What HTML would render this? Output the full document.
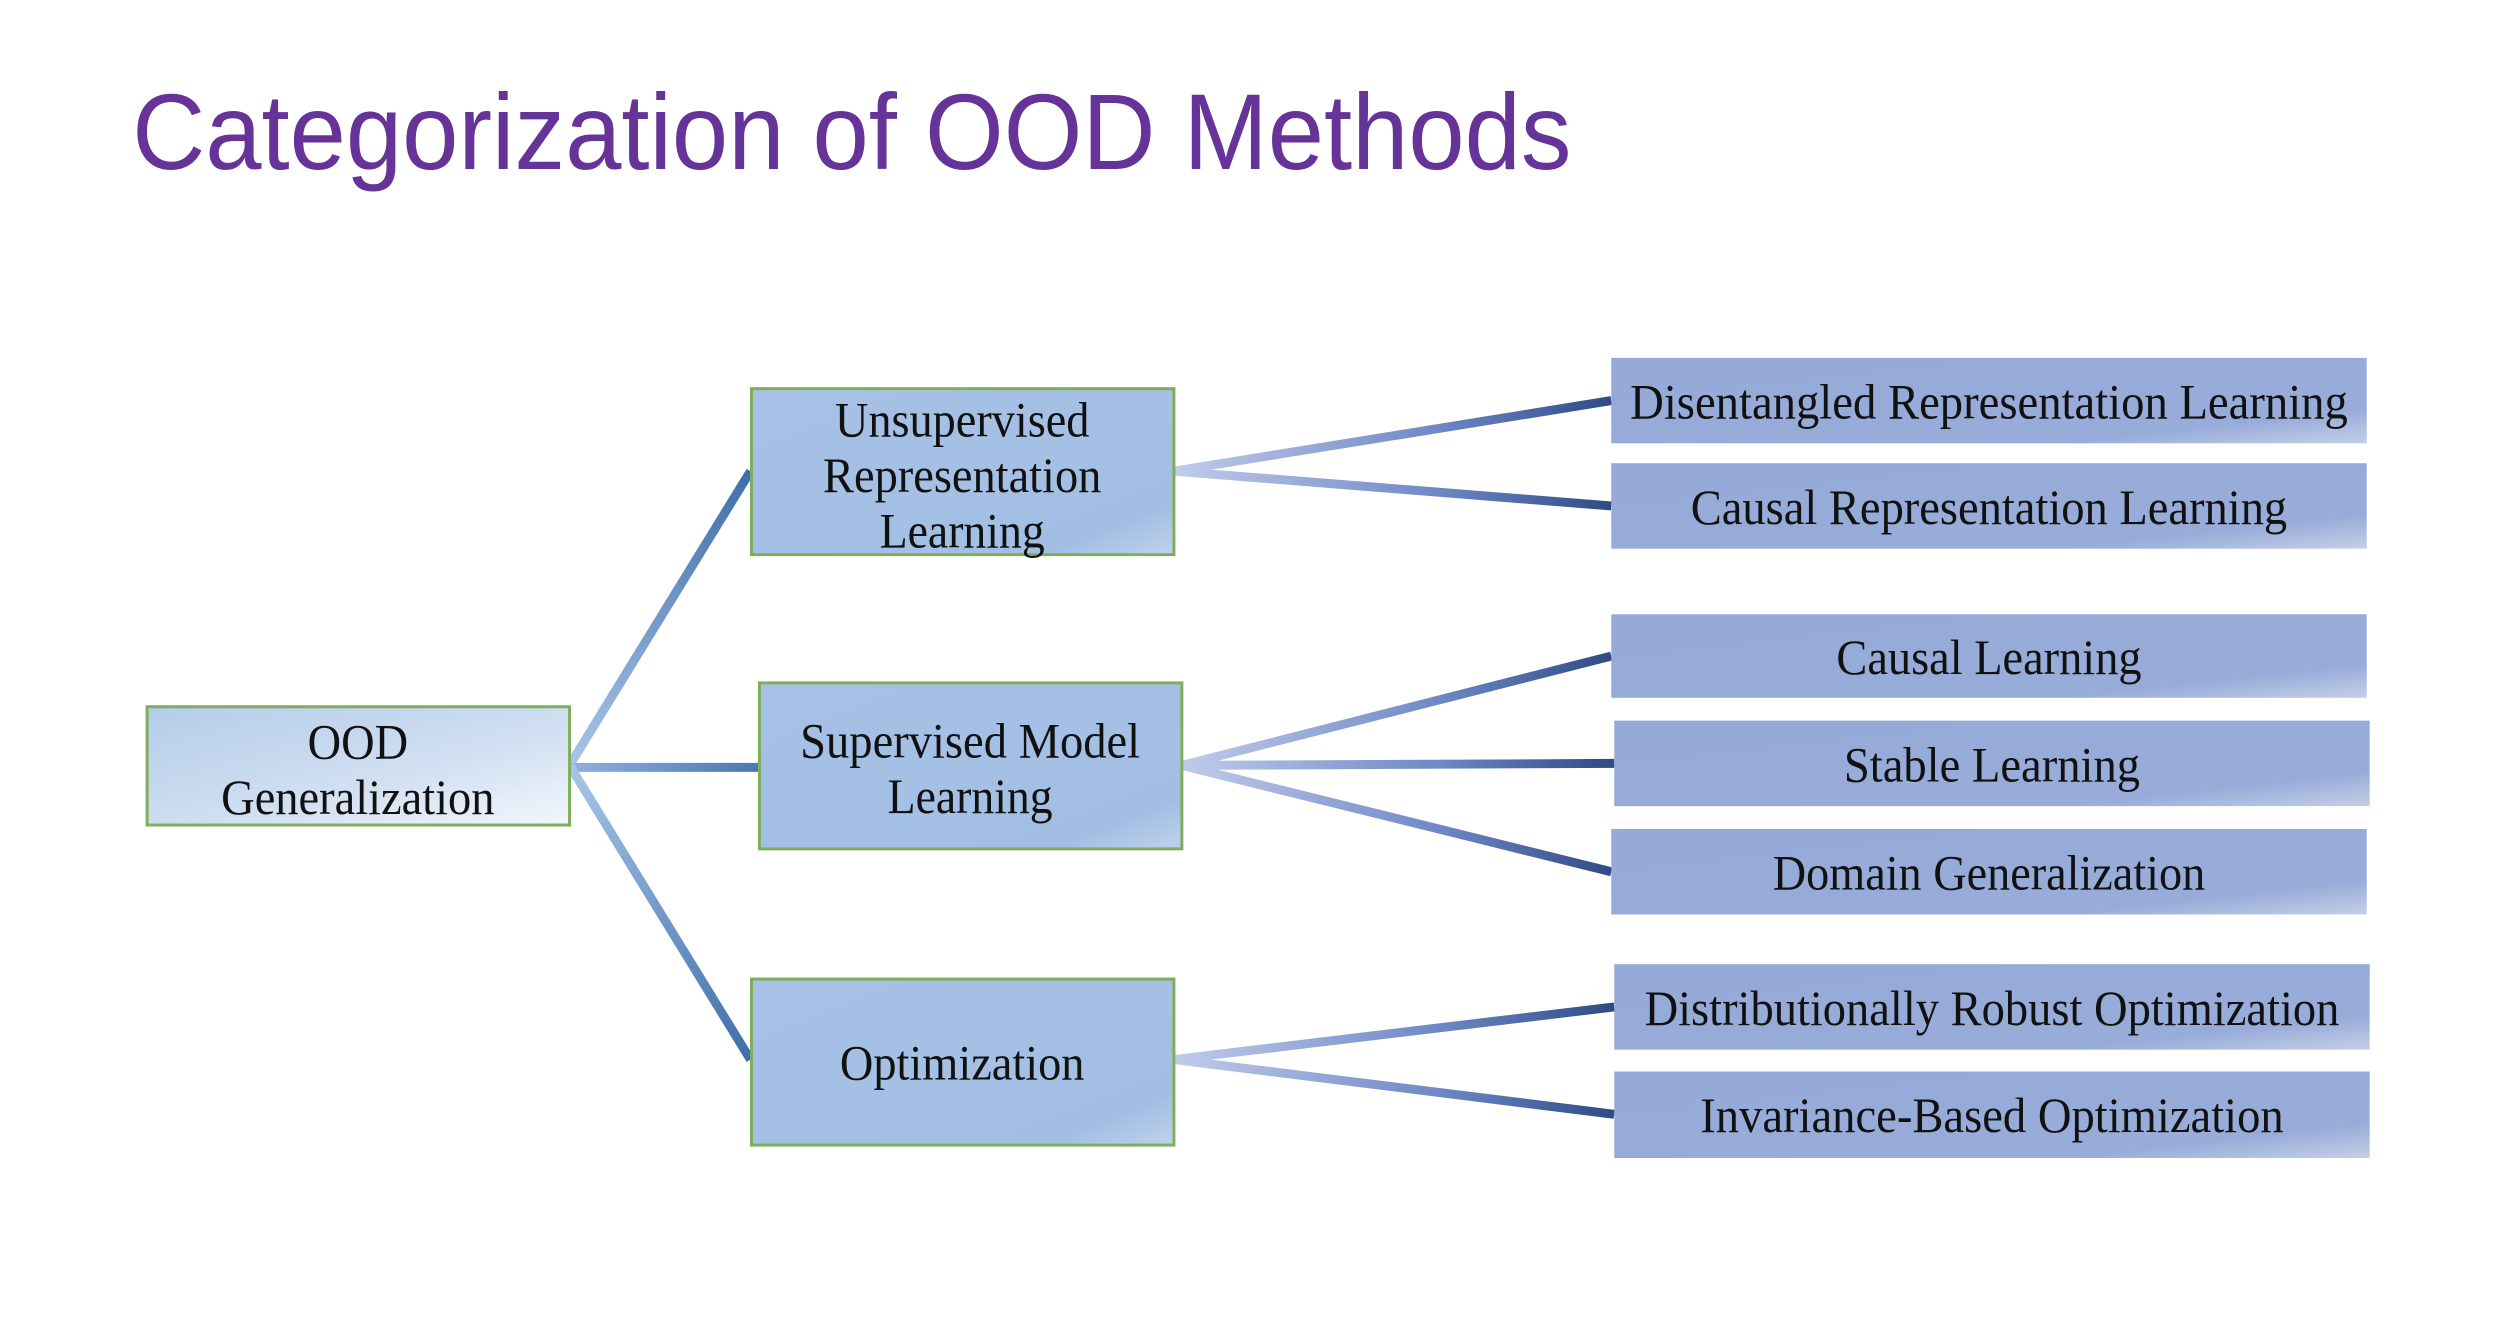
<!DOCTYPE html>
<html><head><meta charset="utf-8"><style>html,body{margin:0;padding:0;background:#fff}svg{display:block}</style></head>
<body>
<svg width="2494" height="1338" viewBox="0 0 2494 1338" xmlns="http://www.w3.org/2000/svg">
<defs>
<linearGradient id="mid" x1="0" y1="0" x2="1" y2="1">
<stop offset="0" stop-color="#a7c1e6"/><stop offset="0.85" stop-color="#a2bfe3"/><stop offset="1" stop-color="#bfd2ec"/></linearGradient>
<linearGradient id="ood" x1="0" y1="0" x2="1" y2="1">
<stop offset="0" stop-color="#b4cce9"/><stop offset="0.6" stop-color="#d2e0f2"/><stop offset="1" stop-color="#f2f6fc"/></linearGradient>
<linearGradient id="rt" x1="0" y1="0" x2="1" y2="1">
<stop offset="0" stop-color="#96aad9"/><stop offset="0.8" stop-color="#98acd9"/><stop offset="1" stop-color="#c4cfe8"/></linearGradient>
</defs>
<g transform="scale(0.994)">
<text x="133" y="170" font-family="Liberation Sans, sans-serif" font-size="108" fill="#663399" textLength="1448" lengthAdjust="spacingAndGlyphs">Categorization of OOD Methods</text>

<g stroke-width="9" stroke-linecap="butt" fill="none">
<linearGradient id="g1" gradientUnits="userSpaceOnUse" x1="573" y1="770" x2="755" y2="474"><stop offset="0" stop-color="#a8c6e8"/><stop offset="1" stop-color="#3f6ea8"/></linearGradient>
<line x1="573" y1="770" x2="755" y2="474" stroke="url(#g1)"/>
<linearGradient id="g2" gradientUnits="userSpaceOnUse" x1="573" y1="770" x2="763" y2="770"><stop offset="0" stop-color="#8fb2de"/><stop offset="1" stop-color="#4a78b0"/></linearGradient>
<line x1="573" y1="772" x2="763" y2="772" stroke="url(#g2)"/>
<linearGradient id="g3" gradientUnits="userSpaceOnUse" x1="573" y1="770" x2="755" y2="1066"><stop offset="0" stop-color="#a8c6e8"/><stop offset="1" stop-color="#3f6ea8"/></linearGradient>
<line x1="573" y1="770" x2="755" y2="1066" stroke="url(#g3)"/>

<linearGradient id="h" gradientUnits="userSpaceOnUse" x1="1181" y1="0" x2="1621" y2="0"><stop offset="0" stop-color="#c0ccea"/><stop offset="0.6" stop-color="#6f88c6"/><stop offset="1" stop-color="#2f4a86"/></linearGradient>
<linearGradient id="h2" gradientUnits="userSpaceOnUse" x1="1189" y1="0" x2="1621" y2="0"><stop offset="0" stop-color="#c0ccea"/><stop offset="0.6" stop-color="#6f88c6"/><stop offset="1" stop-color="#2f4a86"/></linearGradient>
<linearGradient id="h3" gradientUnits="userSpaceOnUse" x1="1181" y1="0" x2="1624" y2="0"><stop offset="0" stop-color="#c0ccea"/><stop offset="0.6" stop-color="#6f88c6"/><stop offset="1" stop-color="#2f4a86"/></linearGradient>
<line x1="1181" y1="474" x2="1621" y2="403" stroke="url(#h)"/>
<line x1="1181" y1="474" x2="1621" y2="509" stroke="url(#h)"/>
<line x1="1189" y1="770" x2="1621" y2="660" stroke="url(#h2)"/>
<line x1="1189" y1="770" x2="1624" y2="768" stroke="url(#h2)"/>
<line x1="1189" y1="770" x2="1621" y2="877" stroke="url(#h2)"/>
<line x1="1181" y1="1066" x2="1624" y2="1013" stroke="url(#h3)"/>
<line x1="1181" y1="1066" x2="1624" y2="1121" stroke="url(#h3)"/>
</g>

<g stroke="#7fae5a" stroke-width="3">
<rect x="148" y="711" width="425" height="119" fill="url(#ood)"/>
<rect x="756" y="391" width="425" height="167" fill="url(#mid)"/>
<rect x="764" y="687" width="425" height="167" fill="url(#mid)"/>
<rect x="756" y="985" width="425" height="167" fill="url(#mid)"/>
</g>
<g fill="url(#rt)">
<rect x="1621" y="360" width="760" height="86"/>
<rect x="1621" y="466" width="760" height="86"/>
<rect x="1621" y="618" width="760" height="84"/>
<rect x="1624" y="725" width="760" height="86"/>
<rect x="1621" y="834" width="760" height="86"/>
<rect x="1624" y="970" width="760" height="86"/>
<rect x="1624" y="1078" width="760" height="87"/>
</g>

<g font-family="Liberation Serif, serif" font-size="50" fill="#111">
<text x="360" y="763" text-anchor="middle" textLength="101" lengthAdjust="spacingAndGlyphs">OOD</text>
<text x="360" y="819" text-anchor="middle" textLength="275" lengthAdjust="spacingAndGlyphs">Generalization</text>
<text x="968" y="439" text-anchor="middle" textLength="256" lengthAdjust="spacingAndGlyphs">Unsupervised</text>
<text x="968" y="495" text-anchor="middle" textLength="280" lengthAdjust="spacingAndGlyphs">Representation</text>
<text x="968" y="551" text-anchor="middle" textLength="166" lengthAdjust="spacingAndGlyphs">Learning</text>
<text x="976" y="762" text-anchor="middle" textLength="342" lengthAdjust="spacingAndGlyphs">Supervised Model</text>
<text x="976" y="818" text-anchor="middle" textLength="166" lengthAdjust="spacingAndGlyphs">Learning</text>
<text x="968" y="1086" text-anchor="middle" textLength="246" lengthAdjust="spacingAndGlyphs">Optimization</text>
<text x="2001" y="421" text-anchor="middle" textLength="722" lengthAdjust="spacingAndGlyphs">Disentangled Representation Learning</text>
<text x="2001" y="527" text-anchor="middle" textLength="600" lengthAdjust="spacingAndGlyphs">Causal Representation Learning</text>
<text x="2001" y="678" text-anchor="middle" textLength="307" lengthAdjust="spacingAndGlyphs">Causal Learning</text>
<text x="2004" y="786" text-anchor="middle" textLength="298" lengthAdjust="spacingAndGlyphs">Stable Learning</text>
<text x="2001" y="895" text-anchor="middle" textLength="435" lengthAdjust="spacingAndGlyphs">Domain Generalization</text>
<text x="2004" y="1031" text-anchor="middle" textLength="699" lengthAdjust="spacingAndGlyphs">Distributionally Robust Optimization</text>
<text x="2004" y="1139" text-anchor="middle" textLength="587" lengthAdjust="spacingAndGlyphs">Invariance-Based Optimization</text>
</g>
</g>
</svg>
</body></html>
